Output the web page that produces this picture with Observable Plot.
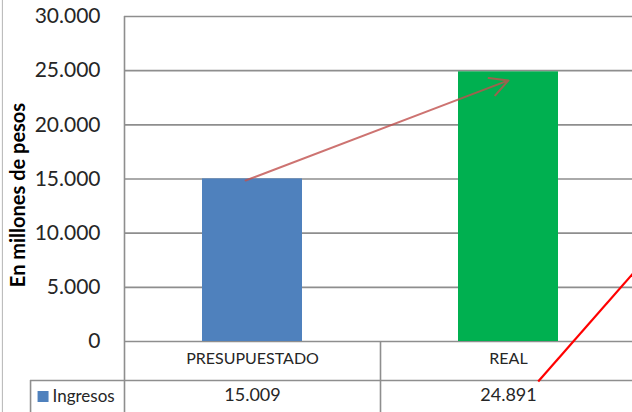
<!DOCTYPE html>
<html>
<head>
<meta charset="utf-8">
<script src="https://cdn.jsdelivr.net/npm/d3@7"></script>
<script src="https://cdn.jsdelivr.net/npm/@observablehq/plot@0.6"></script>
<style>
  html, body { margin: 0; padding: 0; background: #ffffff; }
  svg { display: block; }
</style>
</head>
<body>
<div id="chart"></div>
<script>
// ---- data ----
const categories = ["PRESUPUESTADO", "REAL"];
const values = [15009, 24891];
const seriesName = "Ingresos";
const barColors = ["#4F81BD", "#00B050"];
const yTicks = [0, 5000, 10000, 15000, 20000, 25000, 30000];
const yLabel = "En millones de pesos";
// annotation arrow (growth) in data units: category index position, value
const arrowFrom = {pos: 0.473, value: 14860};
const arrowTo = {pos: 1.5, value: 24100};
// red callout line (x in category units, value units)
const calloutFrom = {pos: 1.616, value: -3700};
const calloutTo = {pos: 2.03, value: 7450};

// table geometry in scale units
const tableRowValue = -3600;   // separator between category row and series row
const tableBottom = -7000;
const legendLeft = -0.367;
const chartLeftBorder = -0.477;

const fmt = d3.formatLocale({decimal: ",", thousands: ".", grouping: [3], currency: ["$", ""]}).format(",");
const data = categories.map((c, i) => ({cat: c, i, value: values[i], color: barColors[i]}));

const gridColor = "#8e8e8e";
const textColor = "#262626";

const plot = Plot.plot({
  width: 632,
  height: 412,
  marginLeft: 124,
  marginRight: 0,
  marginTop: 16,
  marginBottom: 71,
  style: {fontFamily: "Lato, 'Open Sans', sans-serif", background: "#ffffff", overflow: "visible"},
  x: {domain: [0, categories.length], range: [124, 636], axis: null},
  y: {domain: [0, 30000], range: [341, 16], axis: null},
  color: {type: "identity"},
  marks: [
    // chart outer left border
    Plot.ruleX([chartLeftBorder], {y1: 32000, y2: tableBottom, stroke: "#b4b4b4", strokeWidth: 1}),
    // gridlines
    Plot.ruleY(yTicks, {stroke: gridColor, strokeWidth: 1.6}),
    // bars
    Plot.rectY(data, {x1: d => d.i, x2: d => d.i + 1, y: "value", fill: "color", insetLeft: 78, insetRight: 78}),
    // value axis line (extends through table)
    Plot.ruleX([0], {y1: 30000, y2: tableBottom, stroke: gridColor, strokeWidth: 1.6}),
    // table lines
    Plot.ruleX(d3.range(1, categories.length), {y1: 0, y2: tableBottom, stroke: gridColor, strokeWidth: 1.6}),
    Plot.ruleY([tableRowValue], {x1: legendLeft, x2: categories.length, stroke: gridColor, strokeWidth: 1.6}),
    Plot.ruleX([legendLeft], {y1: tableRowValue, y2: tableBottom, stroke: gridColor, strokeWidth: 1.6}),
    // y tick labels
    Plot.text(yTicks, {x: 0, y: d => d, text: d => fmt(d), textAnchor: "end", dx: -24, fontSize: 21, fill: textColor}),
    // y axis title
    Plot.text([yLabel], {frameAnchor: "left", textAnchor: "middle", rotate: -90, dx: -106, dy: 16, fontSize: 20, fontWeight: "bold", fill: "#000"}),
    // category labels
    Plot.text(data, {x: d => d.i + 0.5, y: 0, text: "cat", dy: 17, fontSize: 16, fill: textColor}),
    // series values row
    Plot.text(data, {x: d => d.i + 0.5, y: 0, text: d => fmt(d.value), dy: 54, fontSize: 18, fill: textColor}),
    // legend key in table
    Plot.dot([seriesName], {x: legendLeft, y: 0, dx: 12.5, dy: 55, symbol: "square", r: 6.2, fill: barColors[0], stroke: null}),
    Plot.text([seriesName], {x: legendLeft, y: 0, dx: 22, dy: 55, textAnchor: "start", fontSize: 17, fill: textColor}),
    // growth arrow
    Plot.arrow([0], {x1: () => arrowFrom.pos, y1: () => arrowFrom.value, x2: () => arrowTo.pos, y2: () => arrowTo.value,
      stroke: "#C0504D", strokeOpacity: 0.8, strokeWidth: 2, headLength: 15, headAngle: 55}),
    // red callout line
    Plot.link([0], {x1: () => calloutFrom.pos, y1: () => calloutFrom.value, x2: () => calloutTo.pos, y2: () => calloutTo.value,
      stroke: "#ff0000", strokeWidth: 2.2})
  ]
});
document.getElementById("chart").appendChild(plot);
</script>
</body>
</html>
